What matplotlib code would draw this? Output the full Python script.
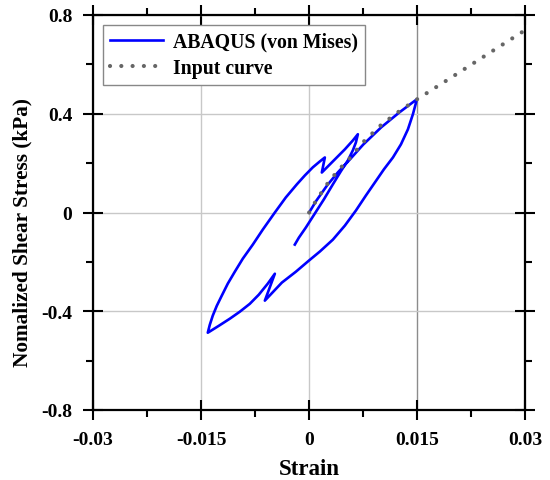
import matplotlib
matplotlib.use("Agg")
import matplotlib.pyplot as plt
from matplotlib.ticker import MultipleLocator, FixedLocator, FixedFormatter

plt.rcParams['font.family'] = ['Liberation Serif', 'DejaVu Serif']
plt.rcParams['font.weight'] = 'bold'

# ---- data ----
input_strain = [0.0, 0.001, 0.0025, 0.004, 0.0055, 0.0075, 0.010, 0.0125, 0.015, 0.020, 0.025, 0.030]
input_stress = [0.0, 0.050, 0.115, 0.170, 0.215, 0.285, 0.355, 0.410, 0.459, 0.552, 0.646, 0.739]

abaqus_strain = [
    # initial loading
    0.0, 0.001, 0.0025, 0.004, 0.0055, 0.0075, 0.010, 0.0125, 0.01496,
    # unloading from peak
    0.01440, 0.01371, 0.01274, 0.01163, 0.01038, 0.00913, 0.00788, 0.00649,
    0.00496, 0.00329, 0.00149, -0.00004, -0.00185, -0.00379, -0.00615,
    # small reversal, then unloading to minimum
    -0.00476, -0.00574, -0.00699, -0.00824, -0.00963, -0.0110, -0.01254, -0.01407,
    # reloading
    -0.01379, -0.01338, -0.01282, -0.01213, -0.01129, -0.01032, -0.00921,
    -0.00782, -0.00643, -0.00476, -0.00324, -0.00171, -0.00060, 0.00051,
    0.00149, 0.00218,
    # small reversal then reload
    0.00176, 0.00329, 0.00496, 0.00607, 0.00676,
    # final unloading
    0.00649, 0.00607, 0.00538, 0.00440, 0.00329, 0.00204, 0.00079, -0.00046,
    -0.00143, -0.00199,
]
abaqus_stress = [
    0.0, 0.048, 0.110, 0.163, 0.210, 0.275, 0.345, 0.405, 0.459,
    0.398, 0.337, 0.276, 0.223, 0.175, 0.122, 0.069, 0.008,
    -0.053, -0.110, -0.158, -0.195, -0.240, -0.284, -0.357,
    -0.248, -0.288, -0.333, -0.370, -0.402, -0.430, -0.459, -0.487,
    -0.455, -0.418, -0.378, -0.337, -0.288, -0.240, -0.187,
    -0.130, -0.069, 0.000, 0.061, 0.114, 0.150, 0.183,
    0.207, 0.223,
    0.162, 0.207, 0.256, 0.292, 0.317,
    0.284, 0.252, 0.211, 0.167, 0.114, 0.053, -0.004, -0.061,
    -0.102, -0.130,
]

x_ticks = [-0.03, -0.015, 0.0, 0.015, 0.03]
x_tick_labels = ['-0.03', '-0.015', '0', '0.015', '0.03']
y_ticks = [-0.8, -0.4, 0.0, 0.4, 0.8]
y_tick_labels = ['-0.8', '-0.4', '0', '0.4', '0.8']

# ---- figure ----
fig = plt.figure(figsize=(5.5, 4.81), dpi=100)
ax = fig.add_axes([93 / 550, 1 - 411 / 481, (525.3 - 93) / 550, (411 - 16) / 481])

ax.plot(abaqus_strain, abaqus_stress, color='#0000ff', lw=1.9,
        label='ABAQUS (von Mises)', zorder=3, solid_joinstyle='round')
ax.plot(input_strain, input_stress, color='#666666', lw=3.0,
        linestyle=(0, (0.01, 2.7)), dash_capstyle='round',
        label='Input curve', zorder=4)

ax.set_xlim(-0.03, 0.03)
ax.set_ylim(-0.8, 0.8)

ax.xaxis.set_major_locator(FixedLocator(x_ticks))
ax.xaxis.set_major_formatter(FixedFormatter(x_tick_labels))
ax.yaxis.set_major_locator(FixedLocator(y_ticks))
ax.yaxis.set_major_formatter(FixedFormatter(y_tick_labels))
ax.xaxis.set_minor_locator(MultipleLocator(0.0075))
ax.yaxis.set_minor_locator(MultipleLocator(0.2))

ax.grid(True, which='major', color='#c8c8c8', lw=1.0, zorder=0)
for val, gl in zip(x_ticks, ax.get_xgridlines()):
    if val == 0.015:
        gl.set_color('#8c8c8c')

ax.tick_params(which='major', direction='inout', length=14, width=1.5,
               top=True, right=True, labelsize=14, pad=8)
ax.tick_params(which='minor', direction='out', length=5, width=1.5,
               top=True, right=True)
for lab in ax.get_xticklabels() + ax.get_yticklabels():
    lab.set_fontweight('bold')

for sp in ax.spines.values():
    sp.set_linewidth(1.6)

ax.set_xlabel('Strain', fontsize=16.5, fontweight='bold', labelpad=7)
ax.set_ylabel('Nomalized Shear Stress (kPa)', fontsize=15.3, fontweight='bold')
ax.yaxis.set_label_coords(-0.141, 0.453)

leg = ax.legend(loc='upper left', fontsize=14.2, frameon=True, fancybox=False,
                edgecolor='#888888', framealpha=1, handlelength=2.7,
                borderpad=0.35, labelspacing=0.3, handletextpad=0.5,
                borderaxespad=0.5)
leg.get_frame().set_linewidth(1.0)
for t in leg.get_texts():
    t.set_fontweight('bold')

fig.savefig('out.png', dpi=100)
